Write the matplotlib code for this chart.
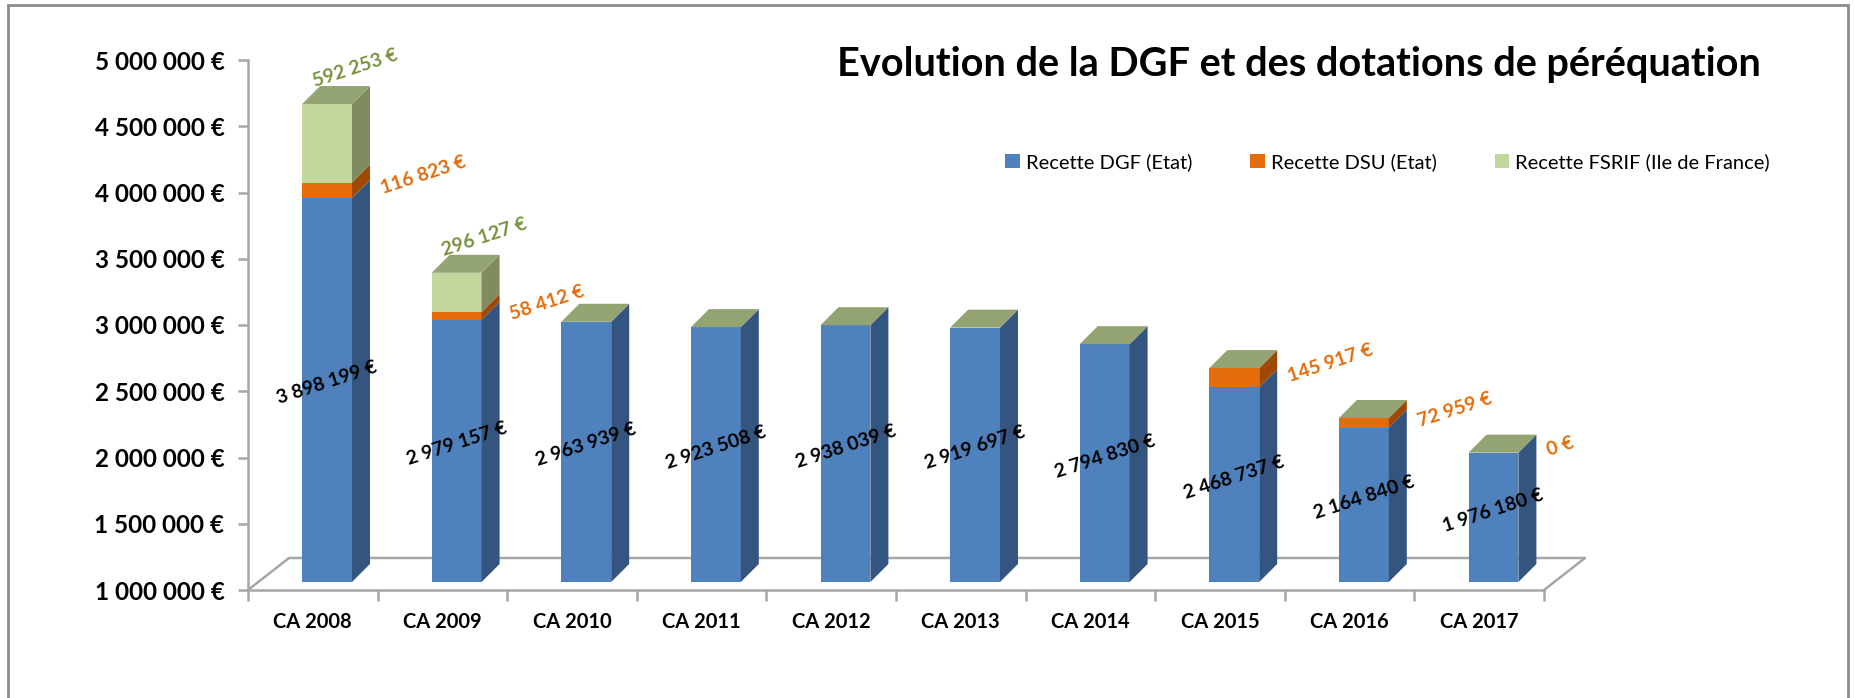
import matplotlib
matplotlib.use('Agg')
import matplotlib.pyplot as plt
from matplotlib.patches import Polygon, Rectangle, Patch
import numpy as np

plt.rcParams['font.family'] = ['Lato', 'DejaVu Sans']

categories = ['CA 2008', 'CA 2009', 'CA 2010', 'CA 2011', 'CA 2012',
              'CA 2013', 'CA 2014', 'CA 2015', 'CA 2016', 'CA 2017']
dgf = [3898199, 2979157, 2963939, 2923508, 2938039, 2919697, 2794830, 2468737, 2164840, 1976180]
dsu = [116823, 58412, 0, 0, 0, 0, 0, 145917, 72959, 0]
fsrif = [592253, 296127, 0, 0, 0, 0, 0, 0, 0, 0]
series_names = ['Recette DGF (Etat)', 'Recette DSU (Etat)', 'Recette FSRIF (Ile de France)']
show_dsu = [True, True, False, False, False, False, False, True, True, True]
show_fsrif = [True, True, False, False, False, False, False, False, False, False]


def euro(v):
    return '{:,}'.format(int(v)).replace(',', ' ') + ' €'


front_cols = ['#4F81BD', '#E46C0A', '#C3D69B']
side_cols = ['#335580', '#9E4A06', '#808C60']
top_col = '#93A472'
axis_col = '#A6A6A6'

W, H = 1855, 698
fig = plt.figure(figsize=(W / 100, H / 100), dpi=100)
ax_l, ax_b = 248 / W, (H - 590) / H
ax_w, ax_h = 1296 / W, (590 - 60) / H
ax = fig.add_axes([ax_l, ax_b, ax_w, ax_h])
ymin, ymax = 1000000, 5000000
ax.set_xlim(-0.5, 9.5)
ax.set_ylim(ymin, ymax)

# pixel -> data conversions
px_x = 10 / 1296
px_y = (ymax - ymin) / (590 - 60)

# floor (3D base)
fdx, fdy = 41 * px_x, 32 * px_y
ax.plot([-0.5, -0.5 + fdx, 9.5 + fdx, 9.5], [ymin, ymin + fdy, ymin + fdy, ymin],
        color=axis_col, lw=1.8, clip_on=False, zorder=1)

# bars with fake depth
bw = 0.385
boff = 0.11
dx, dy = 18 * px_x, 18 * px_y
base = ymin + 8 * px_y
x = np.arange(len(categories))
segs = [dgf, dsu, fsrif]
bottoms = np.full(len(x), base, dtype=float)
for k, vals in enumerate(segs):
    vals = np.array(vals, dtype=float)
    bottom_k = bottoms.copy()
    heights = vals - ymin if k == 0 else vals
    ax.bar(x + boff, heights, width=bw, bottom=bottom_k, color=front_cols[k],
           edgecolor='none', zorder=3, clip_on=False)
    for i in range(len(x)):
        if heights[i] <= 0:
            continue
        x1 = x[i] + boff + bw / 2
        y0, y1 = bottom_k[i], bottom_k[i] + heights[i]
        ax.add_patch(Polygon([(x1, y0), (x1 + dx, y0 + dy), (x1 + dx, y1 + dy), (x1, y1)],
                             closed=True, facecolor=side_cols[k], edgecolor='none',
                             zorder=3, clip_on=False))
    bottoms = bottom_k + heights

for i in range(len(x)):
    x0 = x[i] + boff - bw / 2
    x1 = x[i] + boff + bw / 2
    yt = bottoms[i]
    ax.add_patch(Polygon([(x0, yt), (x1, yt), (x1 + dx, yt + dy), (x0 + dx, yt + dy)],
                         closed=True, facecolor=top_col, edgecolor='none',
                         zorder=3, clip_on=False))

# data labels
rot = 18
for i in range(len(x)):
    mid = base + (dgf[i] - ymin) / 2
    ax.annotate(euro(dgf[i]), (x[i] + boff, mid), xytext=(0, 5), textcoords='offset points',
                ha='center', va='center', rotation=rot, fontsize=14, fontweight='bold',
                color='black', zorder=5, rotation_mode='anchor')
    y_dsu = base + dgf[i] - ymin + dsu[i] / 2
    if show_dsu[i]:
        ax.annotate(euro(dsu[i]), (x[i] + boff + bw / 2 + dx, y_dsu), xytext=(8, 1),
                    textcoords='offset points', ha='left', va='center', rotation=rot,
                    fontsize=14, fontweight='bold', color='#E46C0A', zorder=5,
                    rotation_mode='anchor')
    if show_fsrif[i]:
        ax.annotate(euro(fsrif[i]), (x[i] + boff, bottoms[i] + dy), xytext=(20, 13),
                    textcoords='offset points', ha='center', va='center', rotation=rot,
                    fontsize=14, fontweight='bold', color='#77933C', zorder=5,
                    rotation_mode='anchor')

# axes styling
for s in ['top', 'right']:
    ax.spines[s].set_visible(False)
ax.spines['left'].set_color(axis_col)
ax.spines['left'].set_linewidth(1.8)
ax.spines['bottom'].set_color(axis_col)
ax.spines['bottom'].set_linewidth(1.8)
ax.patch.set_alpha(0)

yt_vals = np.arange(1000000, 5000001, 500000)
ax.set_yticks(yt_vals)
ax.set_yticklabels([euro(v) for v in yt_vals], fontsize=17.5, fontweight='bold')
ax.tick_params(axis='y', length=7, width=1.8, color=axis_col, pad=10)

ax.set_xticks(np.arange(-0.5, 10, 1))
ax.set_xticklabels([])
ax.tick_params(axis='x', which='major', length=8, width=1.8, color=axis_col)
ax.set_xticks(x, minor=True)
ax.set_xticklabels(categories, minor=True, fontsize=14.5, fontweight='bold')
ax.tick_params(axis='x', which='minor', length=0, pad=16)

fig.text(0.70, 0.908, 'Evolution de la DGF et des dotations de péréquation',
         ha='center', va='center', fontsize=28.5, fontweight='bold')

handles = [Patch(facecolor=c, edgecolor='none') for c in front_cols]
fig.legend(handles, series_names, loc='center', bbox_to_anchor=(0.748, 0.768), ncol=3,
           frameon=False, fontsize=14.5, handlelength=0.7, handleheight=0.7,
           handletextpad=0.3, columnspacing=2.9)

# outer chart frame
fig.patches.append(Rectangle((8 / W, -0.1), (1848 - 8) / W, 1.1 - 5 / H,
                             transform=fig.transFigure, fill=False,
                             edgecolor='#8C8C8C', lw=2))

fig.savefig('out.png', dpi=100)
